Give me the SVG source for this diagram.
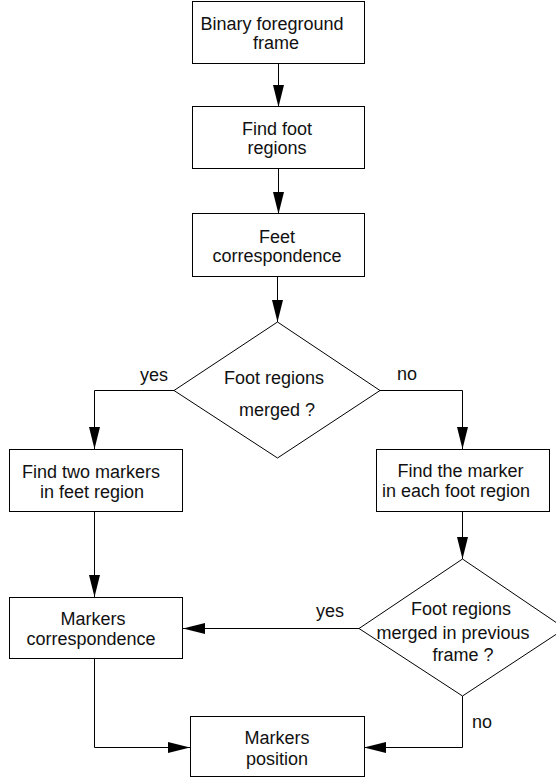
<svg xmlns="http://www.w3.org/2000/svg" width="556" height="778" viewBox="0 0 556 778">
  <defs>
    <marker id="arr" markerUnits="userSpaceOnUse" markerWidth="22" markerHeight="11" refX="22" refY="5.5" orient="auto">
      <path d="M0,0 L22,5.5 L0,11 z" fill="#000"/>
    </marker>
  </defs>
  <style>
    .box { fill: #fff; stroke: #000; stroke-width: 1; }
    .t { font-family: "Liberation Sans", Arial, sans-serif; font-size: 18px; fill: #111; text-anchor: middle; }
    .lbl { font-family: "Liberation Sans", Arial, sans-serif; font-size: 18px; fill: #111; }
    .c { fill: none; stroke: #000; stroke-width: 1; }
  </style>
  <rect width="556" height="778" fill="#fff"/>

  <g id="connectors">
    <path class="c" d="M278.5,63 V107" marker-end="url(#arr)"/>
    <path class="c" d="M278.5,168 V214" marker-end="url(#arr)"/>
    <path class="c" d="M277.5,276 V322" marker-end="url(#arr)"/>
    <path class="c" d="M174,390.5 H94.5 V449" marker-end="url(#arr)"/>
    <path class="c" d="M380,390.5 H462.5 V449" marker-end="url(#arr)"/>
    <path class="c" d="M94.5,512 V597" marker-end="url(#arr)"/>
    <path class="c" d="M462.5,512 V559" marker-end="url(#arr)"/>
    <path class="c" d="M359,628.5 H183" marker-end="url(#arr)"/>
    <path class="c" d="M462.5,696 V747.5 H364" marker-end="url(#arr)"/>
    <path class="c" d="M94.5,658 V747.5 H190" marker-end="url(#arr)"/>
    <text class="lbl" x="140" y="381">yes</text>
    <text class="lbl" x="397" y="380">no</text>
    <text class="lbl" x="316" y="617">yes</text>
    <text class="lbl" x="472" y="728">no</text>
  </g>

  <g id="binary">
    <rect class="box" x="192.5" y="1.5" width="172" height="62"/>
    <text class="t" x="272" y="30">Binary foreground</text>
    <text class="t" x="276" y="49">frame</text>
  </g>
  <g id="findfoot">
    <rect class="box" x="192.5" y="106.5" width="172" height="62"/>
    <text class="t" x="277" y="135">Find foot</text>
    <text class="t" x="277" y="154">regions</text>
  </g>
  <g id="feetcorr">
    <rect class="box" x="192.5" y="213.5" width="172" height="63"/>
    <text class="t" x="277" y="243">Feet</text>
    <text class="t" x="277" y="262">correspondence</text>
  </g>
  <g id="merged1">
    <polygon class="box" points="277.5,322 380,390.5 277.5,458 174,390.5"/>
    <text class="t" x="274" y="384">Foot regions</text>
    <text class="t" x="277" y="416">merged ?</text>
  </g>
  <g id="findtwo">
    <rect class="box" x="9.5" y="449.5" width="173" height="62"/>
    <text class="t" x="91" y="478">Find two markers</text>
    <text class="t" x="92" y="498">in feet region</text>
  </g>
  <g id="findthe">
    <rect class="box" x="376.5" y="449.5" width="173" height="62"/>
    <text class="t" x="460.5" y="477">Find the marker</text>
    <text class="t" x="456" y="497">in each foot region</text>
  </g>
  <g id="merged2">
    <polygon class="box" points="462.5,559 565,628.5 462.5,696 359,628.5"/>
    <text class="t" x="461" y="615">Foot regions</text>
    <text class="t" x="453" y="639">merged in previous</text>
    <text class="t" x="463" y="661">frame ?</text>
  </g>
  <g id="markerscorr">
    <rect class="box" x="9.5" y="597.5" width="173" height="61"/>
    <text class="t" x="93" y="625">Markers</text>
    <text class="t" x="91" y="645">correspondence</text>
  </g>
  <g id="markerspos">
    <rect class="box" x="190.5" y="716.5" width="174" height="60"/>
    <text class="t" x="277" y="744">Markers</text>
    <text class="t" x="277" y="765">position</text>
  </g>
</svg>
